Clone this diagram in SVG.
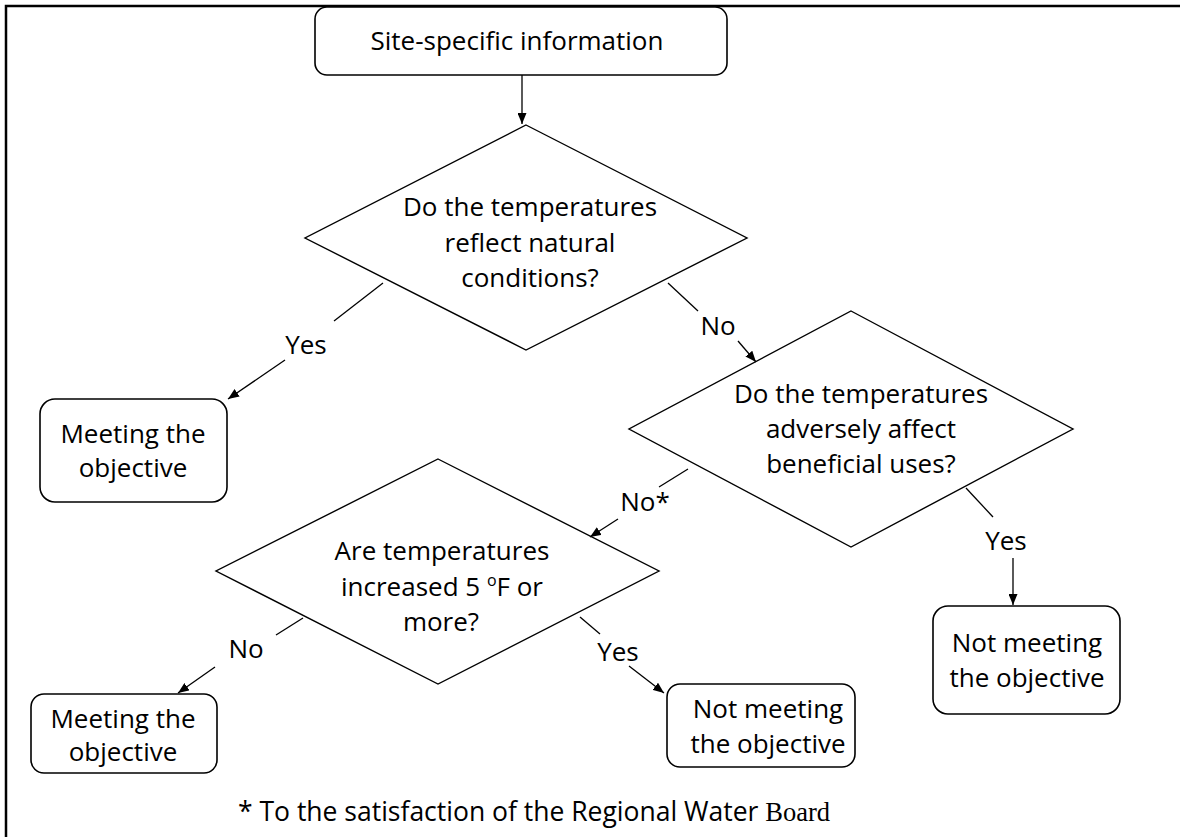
<svg xmlns="http://www.w3.org/2000/svg" width="1180" height="837" viewBox="0 0 1180 837">
  <style>
    .shape { fill: #ffffff; stroke: #000000; stroke-width: 1.4; }
    .box { fill: #ffffff; stroke: #000000; stroke-width: 1.6; }
    .conn { stroke: #000000; stroke-width: 1.3; fill: none; }
    .t { font-family: "Open Sans", "Liberation Sans", sans-serif; font-size: 26px; fill: #000000; text-anchor: middle; }
    .lbl { font-family: "Open Sans", "Liberation Sans", sans-serif; font-size: 26px; fill: #000000; text-anchor: middle; }
    .note { font-family: "Open Sans", "Liberation Sans", sans-serif; font-size: 26.5px; fill: #000000; }
    .frame { stroke: #000000; stroke-width: 2.5; fill: none; }
  </style>
  <defs>
    <marker id="arrow" markerUnits="userSpaceOnUse" markerWidth="11" markerHeight="9" refX="11" refY="4.5" orient="auto">
      <path d="M0,0 L11,4.5 L0,9 z" fill="#000000"/>
    </marker>
  </defs>
  <rect x="0" y="0" width="1180" height="837" fill="#ffffff"/>
  <path class="frame" d="M6,837 L6,6 L1180,6"/>

  <g id="start">
    <rect class="box" x="315" y="7" width="412" height="68" rx="12" ry="12"/>
    <text class="t" x="517" y="50">Site-specific information</text>
  </g>

  <g id="q1">
    <polygon class="shape" points="526,125 747,238 526,350 305,238"/>
    <text class="t" x="530" y="216">Do the temperatures</text>
    <text class="t" x="530" y="252">reflect natural</text>
    <text class="t" x="530" y="287">conditions?</text>
  </g>

  <g id="meet1">
    <rect class="box" x="40" y="399" width="187" height="103" rx="15" ry="15"/>
    <text class="t" x="133" y="443">Meeting the</text>
    <text class="t" x="133" y="477">objective</text>
  </g>

  <g id="q2">
    <polygon class="shape" points="851,311 1073,429 851,547 629,429"/>
    <text class="t" x="861" y="403">Do the temperatures</text>
    <text class="t" x="861" y="438">adversely affect</text>
    <text class="t" x="861" y="473">beneficial uses?</text>
  </g>

  <g id="q3">
    <polygon class="shape" points="438,459 659,571 438,684 216,571"/>
    <text class="t" x="442" y="560">Are temperatures</text>
    <text class="t" x="442" y="596">increased 5 <tspan font-size="16" dy="-10">o</tspan><tspan dy="10">F or</tspan></text>
    <text class="t" x="441" y="631">more?</text>
  </g>

  <g id="notmeet1">
    <rect class="box" x="933" y="606" width="187" height="108" rx="15" ry="15"/>
    <text class="t" x="1027" y="652">Not meeting</text>
    <text class="t" x="1027" y="687">the objective</text>
  </g>

  <g id="meet2">
    <rect class="box" x="31" y="694" width="186" height="79" rx="13" ry="13"/>
    <text class="t" x="123" y="728">Meeting the</text>
    <text class="t" x="123" y="761">objective</text>
  </g>

  <g id="notmeet2">
    <rect class="box" x="667" y="684" width="188" height="83" rx="13" ry="13"/>
    <text class="t" x="768" y="718">Not meeting</text>
    <text class="t" x="768" y="753">the objective</text>
  </g>

  <g id="connectors">
    <line class="conn" x1="522" y1="75" x2="522" y2="124" marker-end="url(#arrow)"/>

    <line class="conn" x1="383" y1="283" x2="334" y2="321"/>
    <text class="lbl" x="306" y="354">Yes</text>
    <line class="conn" x1="285" y1="360" x2="228" y2="399" marker-end="url(#arrow)"/>

    <line class="conn" x1="668" y1="283" x2="698" y2="311"/>
    <text class="lbl" x="718" y="335">No</text>
    <line class="conn" x1="738" y1="341" x2="756" y2="362" marker-end="url(#arrow)"/>

    <line class="conn" x1="688" y1="469" x2="659" y2="487"/>
    <text class="lbl" x="645" y="511">No*</text>
    <line class="conn" x1="618" y1="519" x2="590" y2="537" marker-end="url(#arrow)"/>

    <line class="conn" x1="966" y1="488" x2="993" y2="517"/>
    <text class="lbl" x="1006" y="550">Yes</text>
    <line class="conn" x1="1013" y1="558" x2="1013" y2="605" marker-end="url(#arrow)"/>

    <line class="conn" x1="303" y1="618" x2="276" y2="635"/>
    <text class="lbl" x="246" y="658">No</text>
    <line class="conn" x1="215" y1="667" x2="178" y2="693" marker-end="url(#arrow)"/>

    <line class="conn" x1="580" y1="617" x2="600" y2="634"/>
    <text class="lbl" x="618" y="661">Yes</text>
    <line class="conn" x1="629" y1="666" x2="664" y2="693" marker-end="url(#arrow)"/>
  </g>

  <g id="footnote">
    <text class="note" x="238" y="821">* To the satisfaction of the Regional Water <tspan font-family="'Liberation Serif', serif">Board</tspan></text>
  </g>
</svg>
